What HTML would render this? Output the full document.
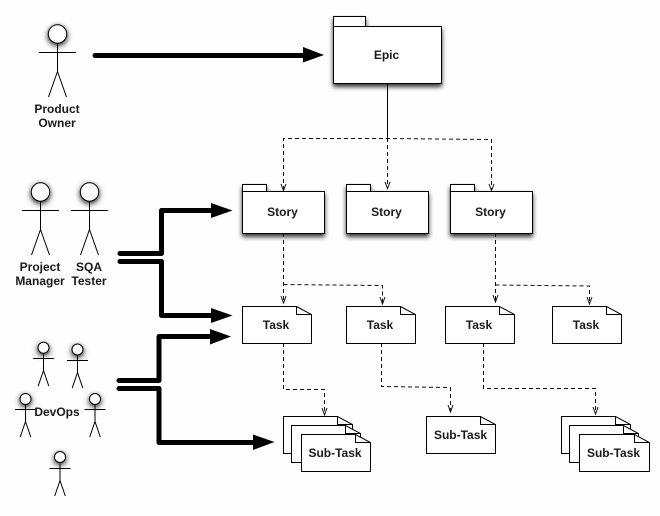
<!DOCTYPE html>
<html>
<head>
<meta charset="utf-8">
<style>
html,body{margin:0;padding:0;background:#fefefe;width:660px;height:516px;overflow:hidden}
svg{display:block}
text{font-family:"Liberation Sans",sans-serif;font-weight:bold;font-size:12px;fill:#1a1a1a;text-anchor:middle}
</style>
</head>
<body>
<svg width="660" height="516" viewBox="0 0 660 516" xmlns="http://www.w3.org/2000/svg">
<defs>
<filter id="sh" x="-20%" y="-30%" width="140%" height="170%"><feDropShadow dx="0" dy="3" stdDeviation="2.4" flood-color="#000" flood-opacity=".8"/></filter>
<filter id="hs" x="-100%" y="-100%" width="300%" height="300%"><feDropShadow dx="0" dy="2" stdDeviation="2.8" flood-color="#000" flood-opacity=".9"/></filter>
<g id="big" fill="none" stroke="#000" stroke-width="1">
<path d="M-18.5 0H18.5M0 -9V19M0 19L-9 44.500M0 19L9 44.500"/>
</g>
<g id="small" fill="none" stroke="#000" stroke-width="1">
<path d="M-10.500 0H10.500M0 -5V12M0 12L-5.300 27.500M0 12L5.300 27.500"/>
</g>
</defs>

<!-- Actors: large -->
<use href="#big" x="57.500" y="52.500"/>
<circle cx="57.500" cy="34" r="9.200" fill="#fff" stroke="#000" filter="url(#hs)"/>
<use href="#big" x="40.500" y="210.500"/>
<circle cx="40.500" cy="192" r="9.200" fill="#fff" stroke="#000" filter="url(#hs)"/>
<use href="#big" x="89.500" y="210.500"/>
<circle cx="89.500" cy="192" r="9.200" fill="#fff" stroke="#000" filter="url(#hs)"/>

<!-- Actors: small -->
<use href="#small" x="43.500" y="358.500"/>
<circle cx="43.500" cy="347.700" r="5.500" fill="#fff" stroke="#000" filter="url(#hs)"/>
<use href="#small" x="77.500" y="360.500"/>
<circle cx="77.500" cy="349.500" r="5.500" fill="#fff" stroke="#000" filter="url(#hs)"/>
<use href="#small" x="25.500" y="409.500"/>
<circle cx="25.500" cy="399" r="5.500" fill="#fff" stroke="#000" filter="url(#hs)"/>
<use href="#small" x="95" y="409.500"/>
<circle cx="95" cy="399" r="5.500" fill="#fff" stroke="#000" filter="url(#hs)"/>
<use href="#small" x="60" y="468.500"/>
<circle cx="60" cy="457" r="5.500" fill="#fff" stroke="#000" filter="url(#hs)"/>

<text x="57" y="113">Product</text>
<text x="57" y="127">Owner</text>
<text x="40" y="271">Project</text>
<text x="40" y="285">Manager</text>
<text x="89" y="271">SQA</text>
<text x="89" y="285">Tester</text>
<text x="57" y="416">DevOps</text>

<!-- Thick arrows -->
<g fill="none" stroke="#000" stroke-width="5" stroke-linecap="round" stroke-linejoin="round">
<path d="M95 55.500H305"/>
<path d="M120 253.500H161.500V210.500H214"/>
<path d="M120 261.500H161.500V315.500H214"/>
<path d="M119 380.500H159V336.500H212"/>
<path d="M119 388.500H159V442.500H255"/>
</g>
<g fill="#000">
<path d="M303 47L324 55L303 62.500Z"/>
<path d="M211 203L232.500 210.500L211 218Z"/>
<path d="M211 308L232.500 315.500L211 323Z"/>
<path d="M210 329L231 336.500L210 344.500Z"/>
<path d="M253 434.500L274.500 442L253 450Z"/>
</g>

<!-- Connectors -->
<path d="M387.500 83V138" fill="none" stroke="#000" stroke-width="1"/>
<g fill="none" stroke="#111" stroke-width="1" stroke-dasharray="4 3">
<path d="M283.500 190V138.500H387.500L491.500 139.500V190"/>
<path d="M387.500 138V188"/>
<path d="M283.500 233V303"/>
<path d="M283.500 284.500L382.500 285.500V304"/>
<path d="M495.500 233V302"/>
<path d="M495.500 285L589.500 286V304"/>
<path d="M283.500 343V389.500H324.500V414"/>
<path d="M381.500 343V386.500L450.500 387.500V412"/>
<path d="M483.500 343V388.500H595.500V414"/>
</g>
<g fill="none" stroke="#111" stroke-width="1">
<path d="M281 184L283.500 190.500L286 184"/>
<path d="M385 182L387.500 188.500L390 182"/>
<path d="M489 184L491.500 190.500L494 184"/>
<path d="M281 296L283.500 303L286 296"/>
<path d="M380 297L382.500 304L385 297"/>
<path d="M493 295L495.500 302L498 295"/>
<path d="M587 297L589.500 304L592 297"/>
<path d="M322 408L324.500 415L327 408"/>
<path d="M448 405L450.500 412L453 405"/>
<path d="M593 407L595.500 414L598 407"/>
</g>

<!-- Packages -->
<g fill="#fff" stroke="#000" stroke-width="1">
<g filter="url(#sh)"><path d="M333.500 16.500H365.500V26.500H441.500V83.500H333.500Z"/></g>
<path d="M333.500 26.500H365.500" fill="none"/>
<g filter="url(#sh)"><path d="M242.500 184.500H266.500V191.500H324.500V233.500H242.500Z"/></g>
<path d="M242.500 191.500H266.500" fill="none"/>
<g filter="url(#sh)"><path d="M346.500 184.500H370.500V191.500H428.500V233.500H346.500Z"/></g>
<path d="M346.500 191.500H370.500" fill="none"/>
<g filter="url(#sh)"><path d="M450.500 184.500H474.500V191.500H532.500V233.500H450.500Z"/></g>
<path d="M450.500 191.500H474.500" fill="none"/>
</g>
<text x="386.500" y="59">Epic</text>
<text x="282.500" y="216">Story</text>
<text x="386.500" y="216">Story</text>
<text x="490.500" y="216">Story</text>

<!-- Notes -->
<g fill="#fff" stroke="#000" stroke-width="1" stroke-linejoin="miter">
<path d="M242.500 306.500H296.500L311.500 314.500V343.500H242.500Z"/><path d="M296.500 306.500V314.500H311.500" fill="none"/>
<path d="M346.500 306.500H400.500L415.500 314.500V343.500H346.500Z"/><path d="M400.500 306.500V314.500H415.500" fill="none"/>
<path d="M445.500 306.500H499.500L514.500 314.500V343.500H445.500Z"/><path d="M499.500 306.500V314.500H514.500" fill="none"/>
<path d="M552.500 306.500H606.500L621.500 314.500V343.500H552.500Z"/><path d="M606.500 306.500V314.500H621.500" fill="none"/>

<path d="M283.500 416.500H337.500L352.500 424.500V453.500H283.500Z"/><path d="M337.500 416.500V424.500H352.500" fill="none"/>
<path d="M291.500 425.500H345.500L360.500 433.500V462.500H291.500Z"/><path d="M345.500 425.500V433.500H360.500" fill="none"/>
<path d="M301.500 434.500H355.500L370.500 442.500V471.500H301.500Z"/><path d="M355.500 434.500V442.500H370.500" fill="none"/>

<path d="M426.500 416.500H480.500L495.500 424.500V453.500H426.500Z"/><path d="M480.500 416.500V424.500H495.500" fill="none"/>

<path d="M561.500 416.500H615.500L630.500 424.500V453.500H561.500Z"/><path d="M615.500 416.500V424.500H630.500" fill="none"/>
<path d="M569.500 425.500H623.500L638.500 433.500V462.500H569.500Z"/><path d="M623.500 425.500V433.500H638.500" fill="none"/>
<path d="M579.500 434.500H634.500L649.500 442.500V471.500H579.500Z"/><path d="M634.500 434.500V442.500H649.500" fill="none"/>
</g>
<text x="276" y="329">Task</text>
<text x="380" y="329">Task</text>
<text x="479" y="329">Task</text>
<text x="586" y="329">Task</text>
<text x="335" y="457">Sub-Task</text>
<text x="460.500" y="439">Sub-Task</text>
<text x="613.500" y="457">Sub-Task</text>
</svg>
</body>
</html>
